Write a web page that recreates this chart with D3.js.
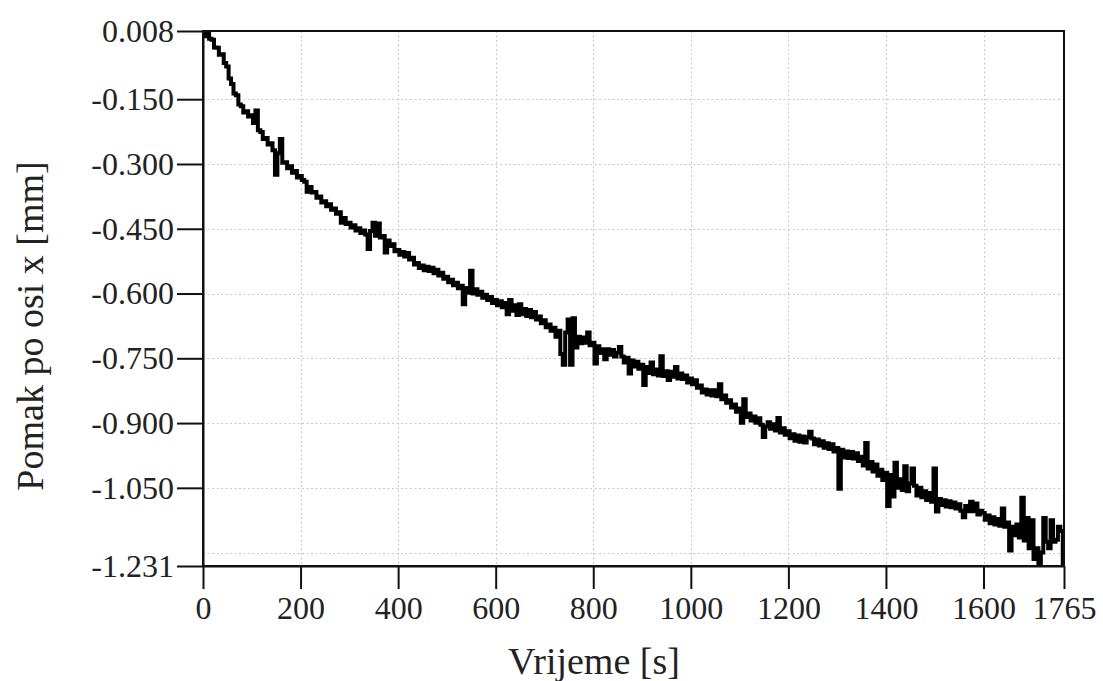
<!DOCTYPE html>
<html>
<head>
<meta charset="utf-8">
<script src="https://cdn.jsdelivr.net/npm/d3@7"></script>
<style>
  html, body { margin: 0; padding: 0; background: #fff; }
  svg { display: block; }
  text { font-family: "Liberation Serif", "Times New Roman", serif; fill: #222; }
</style>
</head>
<body>
<svg id="chart" width="1103" height="681"></svg>
<script>
// ---- data ----
const sampleStep = 5; // seconds between samples
const displacement = [
  0.006, -0.004, 0.007, -0.010, -0.012, -0.030, -0.031, -0.047, -0.046, -0.066,
  -0.074, -0.102, -0.115, -0.137, -0.141, -0.162, -0.166, -0.181, -0.178, -0.190,
  -0.187, -0.205, -0.176, -0.222, -0.226, -0.242, -0.240, -0.255, -0.252, -0.268,
  -0.325, -0.275, -0.242, -0.297, -0.296, -0.310, -0.305, -0.320, -0.316, -0.331,
  -0.328, -0.337, -0.341, -0.364, -0.353, -0.366, -0.365, -0.378, -0.375, -0.389,
  -0.386, -0.398, -0.393, -0.406, -0.403, -0.415, -0.412, -0.436, -0.425, -0.439,
  -0.436, -0.447, -0.442, -0.454, -0.449, -0.460, -0.454, -0.463, -0.497, -0.455,
  -0.436, -0.466, -0.438, -0.470, -0.467, -0.505, -0.477, -0.490, -0.486, -0.502,
  -0.499, -0.510, -0.504, -0.514, -0.506, -0.521, -0.517, -0.533, -0.529, -0.541,
  -0.535, -0.546, -0.538, -0.548, -0.540, -0.553, -0.545, -0.558, -0.552, -0.566,
  -0.561, -0.574, -0.568, -0.581, -0.575, -0.588, -0.582, -0.625, -0.587, -0.598,
  -0.547, -0.600, -0.590, -0.603, -0.596, -0.610, -0.603, -0.615, -0.608, -0.622,
  -0.615, -0.627, -0.618, -0.632, -0.622, -0.648, -0.615, -0.640, -0.627, -0.650,
  -0.625, -0.648, -0.636, -0.652, -0.638, -0.655, -0.643, -0.660, -0.653, -0.669,
  -0.662, -0.678, -0.672, -0.686, -0.679, -0.700, -0.686, -0.740, -0.765, -0.690,
  -0.660, -0.765, -0.657, -0.725, -0.700, -0.715, -0.702, -0.714, -0.690, -0.720,
  -0.714, -0.762, -0.722, -0.738, -0.729, -0.752, -0.729, -0.742, -0.731, -0.746,
  -0.737, -0.724, -0.746, -0.760, -0.749, -0.785, -0.755, -0.769, -0.758, -0.774,
  -0.765, -0.812, -0.770, -0.784, -0.760, -0.787, -0.776, -0.790, -0.745, -0.791,
  -0.780, -0.800, -0.781, -0.793, -0.770, -0.797, -0.785, -0.798, -0.790, -0.806,
  -0.797, -0.810, -0.801, -0.818, -0.813, -0.829, -0.822, -0.834, -0.824, -0.836,
  -0.824, -0.838, -0.810, -0.845, -0.836, -0.853, -0.847, -0.864, -0.857, -0.874,
  -0.866, -0.899, -0.845, -0.886, -0.878, -0.894, -0.885, -0.899, -0.889, -0.904,
  -0.932, -0.908, -0.898, -0.913, -0.903, -0.917, -0.888, -0.922, -0.912, -0.927,
  -0.919, -0.935, -0.926, -0.941, -0.929, -0.943, -0.931, -0.945, -0.933, -0.920,
  -0.936, -0.949, -0.938, -0.952, -0.942, -0.957, -0.947, -0.960, -0.949, -0.966,
  -0.958, -1.052, -0.962, -0.980, -0.966, -0.981, -0.967, -0.982, -0.970, -0.988,
  -0.978, -0.998, -0.946, -1.005, -0.990, -1.012, -0.996, -1.022, -1.008, -1.032,
  -1.015, -1.092, -1.020, -1.070, -0.992, -1.050, -1.030, -1.055, -1.000, -1.058,
  -1.040, -1.005, -1.045, -1.068, -1.050, -1.072, -1.058, -1.078, -1.062, -1.082,
  -1.005, -1.105, -1.076, -1.090, -1.079, -1.093, -1.081, -1.095, -1.084, -1.098,
  -1.088, -1.103, -1.118, -1.092, -1.104, -1.082, -1.104, -1.086, -1.112, -1.103,
  -1.108, -1.124, -1.114, -1.132, -1.118, -1.135, -1.122, -1.138, -1.098, -1.140,
  -1.130, -1.195, -1.140, -1.160, -1.135, -1.165, -1.073, -1.172, -1.120, -1.190,
  -1.125, -1.215, -1.190, -1.228, -1.200, -1.120, -1.175, -1.190, -1.125, -1.175,
  -1.170, -1.140, -1.150, -1.231
];
const xTickValues = [0, 200, 400, 600, 800, 1000, 1200, 1400, 1600, 1765];
const yTickValues = [0.008, -0.150, -0.300, -0.450, -0.600, -0.750, -0.900, -1.050, -1.231];
const xGridValues = [200, 400, 600, 800, 1000, 1200, 1400, 1600];
const yGridValues = [-0.150, -0.300, -0.450, -0.600, -0.750, -0.900, -1.050, -1.200];
const xTitle = "Vrijeme [s]";
const yTitle = "Pomak po osi x [mm]";

const points = displacement.map((v, i) => ({ t: i * sampleStep, v }));

// ---- layout ----
const svg = d3.select("#chart");
const pLeft = 203, pRight = 1064, pTop = 31, pBottom = 566;

const x = d3.scaleLinear().domain([0, 1765]).range([pLeft, pRight]);
const y = d3.scaleLinear().domain([-1.231, 0.008]).range([pBottom, pTop]);

// grid
const grid = svg.append("g").attr("stroke", "#c9c9c9").attr("stroke-width", 1)
  .attr("stroke-dasharray", "2,2.5");
grid.selectAll("line.gx").data(xGridValues).join("line").attr("class", "gx")
  .attr("x1", d => Math.round(x(d)) + 0.5).attr("x2", d => Math.round(x(d)) + 0.5)
  .attr("y1", pTop).attr("y2", pBottom);
grid.selectAll("line.gy").data(yGridValues).join("line").attr("class", "gy")
  .attr("y1", d => Math.round(y(d)) + 0.5).attr("y2", d => Math.round(y(d)) + 0.5)
  .attr("x1", pLeft).attr("x2", pRight);

// clip
svg.append("clipPath").attr("id", "clip").append("rect")
  .attr("x", pLeft).attr("y", pTop - 1).attr("width", pRight - pLeft).attr("height", pBottom - pTop + 2);

// line
const line = d3.line().x(d => x(d.t)).y(d => y(d.v)).curve(d3.curveStep);
svg.append("path").datum(points)
  .attr("clip-path", "url(#clip)")
  .attr("fill", "none").attr("stroke", "#000").attr("stroke-width", 4)
  .attr("stroke-linejoin", "miter").attr("stroke-miterlimit", 2)
  .attr("d", line);

// box
svg.append("rect").attr("x", pLeft).attr("y", pTop).attr("width", pRight - pLeft).attr("height", pBottom - pTop)
  .attr("fill", "none").attr("stroke", "#111").attr("stroke-width", 2);

// axes
const fontSize = 32;
const yAxis = d3.axisLeft(y).tickValues(yTickValues).tickFormat(d => d.toFixed(3))
  .tickSize(26).tickSizeOuter(0).tickPadding(3);
const gy = svg.append("g").attr("transform", `translate(${pLeft},0)`).call(yAxis);
const xAxis = d3.axisBottom(x).tickValues(xTickValues).tickFormat(d => String(d))
  .tickSize(23).tickSizeOuter(0).tickPadding(7);
const gx = svg.append("g").attr("transform", `translate(0,${pBottom})`).call(xAxis);
[gx, gy].forEach(g => {
  g.select(".domain").attr("stroke", "#111").attr("stroke-width", 2);
  g.selectAll(".tick line").attr("stroke", "#111").attr("stroke-width", 2);
  g.selectAll(".tick text").attr("font-family", "Liberation Serif, serif")
    .attr("font-size", fontSize).attr("fill", "#222");
});

// titles
svg.append("text").attr("x", 594).attr("y", 674).attr("text-anchor", "middle")
  .attr("font-size", 38).text(xTitle);
svg.append("text").attr("transform", "translate(43,326) rotate(-90)")
  .attr("text-anchor", "middle").attr("font-size", 38).text(yTitle);
</script>
</body>
</html>
